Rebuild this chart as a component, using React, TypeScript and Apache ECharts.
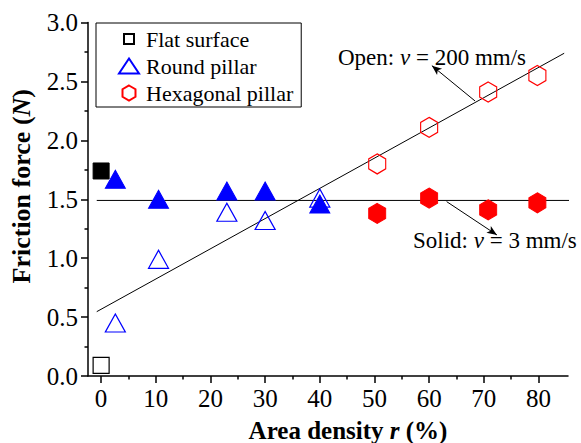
import React, { useEffect, useRef } from "react";
import * as echarts from "echarts";

const FONT = "'Liberation Serif', 'Times New Roman', serif";

// ---- data ----
const flatX = [0];
const flatSolidY = [1.74];
const flatOpenY = [0.09];

const roundX = [2.6, 10.5, 23, 30, 40];
const roundSolidY = [1.67, 1.5, 1.57, 1.57, 1.46];
const roundOpenY = [0.45, 0.99, 1.39, 1.32, 1.51];

const hexX = [50.5, 60, 70.8, 79.8];
const hexSolidY = [1.38, 1.51, 1.41, 1.47];
const hexOpenY = [1.8, 2.11, 2.41, 2.55];

// fitted guide lines [x, y]
const openFitLine = [
  [-0.8, 0.546],
  [84.7, 2.739],
];
const solidFitLine = [
  [-0.8, 1.49],
  [88, 1.49],
];

// annotation arrows [from, to] in data units
const openArrow = [
  [68.4, 2.334],
  [60.5, 2.634],
];
const solidArrow = [
  [63.2, 1.48],
  [72.4, 1.197],
];

const xMajorTicks = [0, 10, 20, 30, 40, 50, 60, 70, 80];
const xMinorTicks = [5, 15, 25, 35, 45, 55, 65, 75];
const legendNames = ["Flat surface", "Round pillar", "Hexagonal pillar"];

const X_MIN = -2.4;
const X_MAX = 85.4;

const HEX = "path://M0,-1 L0.866,-0.5 L0.866,0.5 L0,1 L-0.866,0.5 L-0.866,-0.5 Z";
const SQUARE_LEGEND = "path://M0,0 M15,15 M2.5,2.5 L12.5,2.5 L12.5,12.5 L2.5,12.5 Z";

const zip = (xs: number[], ys: number[]) => xs.map((x, i) => [x, ys[i]]);

export default function App() {
  const ref = useRef<HTMLDivElement>(null);

  useEffect(() => {
    if (!ref.current) return;
    const chart = echarts.init(ref.current, undefined, { renderer: "svg" });

    const openStyle = (c: string) => ({
      color: "rgba(255,255,255,0)",
      borderColor: c,
      borderWidth: 1.2,
      opacity: 1,
    });
    const solidStyle = (c: string) => ({
      color: c,
      borderColor: c,
      borderWidth: 1,
      opacity: 1,
    });

    const option: any = {
      animation: false,
      backgroundColor: "#fff",
      textStyle: { fontFamily: FONT },
      grid: { left: 88, right: 13, top: 22.5, bottom: 67, outerBoundsMode: "none", containLabel: false },
      legend: {
        data: [
          { name: legendNames[0], icon: SQUARE_LEGEND },
          { name: legendNames[1] },
          { name: legendNames[2] },
        ],
        orient: "vertical",
        left: 96,
        top: 23,
        padding: [5, 8, 3, 22],
        itemGap: 5,
        itemWidth: 20,
        itemHeight: 15,
        borderColor: "#000",
        borderWidth: 1,
        selectedMode: false,
        textStyle: {
          fontFamily: FONT,
          fontSize: 22,
          lineHeight: 22,
          color: "#000",
          padding: [0, 0, 0, 2],
        },
      },
      xAxis: [
        {
          type: "value",
          min: X_MIN,
          max: X_MAX,
          position: "bottom",
          name: "Area density {i|r} (%)",
          nameLocation: "middle",
          nameGap: 42,
          nameTextStyle: {
            fontFamily: FONT,
            fontSize: 25,
            fontWeight: "bold",
            color: "#000",
            padding: [0, 0, 0, 40],
            rich: {
              i: { fontFamily: FONT, fontSize: 25, fontWeight: "bold", fontStyle: "italic", color: "#000" },
            },
          },
          splitLine: { show: false },
          axisLine: { show: true, onZero: false, lineStyle: { color: "#000", width: 1.5 } },
          axisTick: {
            show: true,
            inside: false,
            length: 7,
            customValues: xMajorTicks,
            lineStyle: { color: "#000", width: 1.5 },
          },
          axisLabel: {
            customValues: xMajorTicks,
            margin: 10,
            fontFamily: FONT,
            fontSize: 25,
            color: "#000",
          },
        },
        {
          type: "value",
          min: X_MIN,
          max: X_MAX,
          position: "bottom",
          splitLine: { show: false },
          axisLine: { show: false, onZero: false },
          axisTick: {
            show: true,
            length: 3.5,
            customValues: xMinorTicks,
            lineStyle: { color: "#000", width: 1.5 },
          },
          axisLabel: { show: false },
        },
      ],
      yAxis: {
        type: "value",
        min: 0,
        max: 3,
        interval: 0.5,
        name: "Friction force ({i|N})",
        nameLocation: "middle",
        nameGap: 54,
        nameRotate: 90,
        nameTextStyle: {
          fontFamily: FONT,
          fontSize: 26,
          fontWeight: "bold",
          color: "#000",
          padding: [0, 0, 0, 26],
          rich: {
            i: { fontFamily: FONT, fontSize: 26, fontWeight: "bold", fontStyle: "italic", color: "#000" },
          },
        },
        splitLine: { show: false },
        axisLine: { show: true, onZero: false, lineStyle: { color: "#000", width: 1.5 } },
        axisTick: { show: true, length: 7, lineStyle: { color: "#000", width: 1.5 } },
        minorTick: { show: true, splitNumber: 2, length: 3.5, lineStyle: { color: "#000", width: 1.5 } },
        axisLabel: {
          margin: 10,
          fontFamily: FONT,
          fontSize: 25,
          color: "#000",
          formatter: (v: number) => v.toFixed(1),
        },
      },
      series: [
        {
          name: "open fit",
          type: "line",
          data: openFitLine,
          symbol: "none",
          z: 1,
          lineStyle: { color: "#000", width: 1 },
          markLine: {
            silent: true,
            symbol: ["none", "arrow"],
            symbolSize: [6, 10],
            label: { show: false },
            lineStyle: { color: "#000", width: 1, type: "solid" },
            data: [
              [{ coord: openArrow[0] }, { coord: openArrow[1] }],
              [{ coord: solidArrow[0] }, { coord: solidArrow[1] }],
            ],
          },
        },
        {
          name: "solid fit",
          type: "line",
          data: solidFitLine,
          symbol: "none",
          clip: false,
          z: 1,
          lineStyle: { color: "#000", width: 1 },
        },
        {
          name: legendNames[0],
          type: "scatter",
          data: zip(flatX, flatOpenY),
          symbol: "rect",
          symbolSize: 16,
          z: 3,
          itemStyle: openStyle("#000"),
        },
        {
          name: "Flat surface solid",
          type: "scatter",
          data: zip(flatX, flatSolidY),
          symbol: "rect",
          symbolSize: 16,
          z: 3,
          itemStyle: solidStyle("#000"),
        },
        {
          name: "Round pillar solid",
          type: "scatter",
          data: zip(roundX, roundSolidY),
          symbol: "triangle",
          symbolSize: [20, 18],
          z: 3,
          itemStyle: solidStyle("#0000ff"),
        },
        {
          name: legendNames[1],
          type: "scatter",
          data: zip(roundX, roundOpenY),
          symbol: "triangle",
          symbolSize: [20, 18],
          z: 4,
          itemStyle: openStyle("#0000ff"),
        },
        {
          name: legendNames[2],
          type: "scatter",
          data: zip(hexX, hexOpenY),
          symbol: HEX,
          symbolSize: [17, 20],
          z: 3,
          itemStyle: openStyle("#ff0000"),
        },
        {
          name: "Hexagonal pillar solid",
          type: "scatter",
          data: zip(hexX, hexSolidY),
          symbol: HEX,
          symbolSize: [17, 20],
          z: 3,
          itemStyle: solidStyle("#ff0000"),
        },
      ],
      graphic: [
        {
          type: "text",
          x: 338,
          y: 57,
          z: 10,
          style: {
            text: "{a|Open: }{i|v}{a| = 200 mm/s}",
            verticalAlign: "middle",
            align: "left",
            fill: "#000",
            rich: {
              a: { fontFamily: FONT, fontSize: 23, fill: "#000" },
              i: { fontFamily: FONT, fontSize: 23, fontStyle: "italic", fill: "#000" },
            },
          },
        },
        {
          type: "text",
          x: 413,
          y: 240,
          z: 10,
          style: {
            text: "{a|Solid: }{i|v}{a| = 3 mm/s}",
            verticalAlign: "middle",
            align: "left",
            fill: "#000",
            rich: {
              a: { fontFamily: FONT, fontSize: 23, fill: "#000" },
              i: { fontFamily: FONT, fontSize: 23, fontStyle: "italic", fill: "#000" },
            },
          },
        },
      ],
    };

    chart.setOption(option);
    return () => chart.dispose();
  }, []);

  return <div ref={ref} style={{ width: 581, height: 443, position: "absolute", left: 0, top: 0 }} />;
}
